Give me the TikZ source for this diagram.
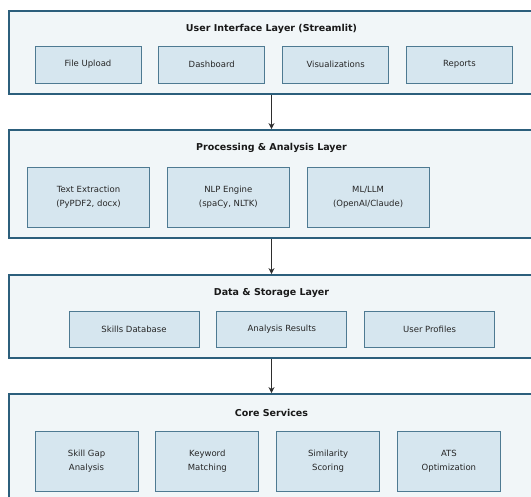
\documentclass[tikz,border=0pt]{standalone}
\usepackage{fontspec}
\setmainfont{DejaVu Sans}
\usetikzlibrary{arrows.meta,positioning}
\definecolor{LyrEdge}{HTML}{2C5F7C}
\definecolor{LyrFill}{HTML}{F1F6F8}
\definecolor{BoxEdge}{HTML}{4E7A92}
\definecolor{BoxFill}{HTML}{D6E6EF}
\definecolor{ArrInk}{HTML}{2E2E2E}

\begin{document}
\begin{tikzpicture}[x=1pt,y=-1pt,
        node distance=17pt,
        layer/.style={draw=LyrEdge,line width=1.8pt,fill=LyrFill,minimum width=525pt,inner sep=0pt},
        ltitle/.style={font=\fontsize{9.5}{11}\selectfont\bfseries,text=black!90},
        box/.style={draw=BoxEdge,line width=0.8pt,fill=BoxFill,inner sep=0pt,align=center,font=\fontsize{8.5}{14}\selectfont,text=black!85},
        arr/.style={-{Stealth[length=6pt,width=6pt]},line width=1pt,ArrInk}
      ]
        \useasboundingbox (0,0) rectangle (531,497);
        \clip (0,0) rectangle (531,497);
        % layers
        \node[layer,minimum height=83pt] (ui) at (271.5,52.5) {};
        \node[layer,minimum height=108pt] (proc) at (271.5,184) {};
        \node[layer,minimum height=83pt] (data) at (271.5,316.5) {};
        \node[layer,minimum height=116pt] (core) at (271.5,452) {};
        \node[ltitle] (uiT) at (271.5,29) {User Interface Layer (Streamlit)};
        \node[ltitle] (procT) at (271.5,148) {Processing \& Analysis Layer};
        \node[ltitle] (dataT) at (271.5,293) {Data \& Storage Layer};
        \node[ltitle] (coreT) at (271.5,413) {Core Services};
        % user interface
        \node[box,minimum width=106pt,minimum height=37pt] (upload) at (88,64.5) {File Upload};
        \node[box,minimum width=106pt,minimum height=37pt,right=of upload] (dash) {Dashboard};
        \node[box,minimum width=106pt,minimum height=37pt,right=of dash] (vis) {Visualizations};
        \node[box,minimum width=106pt,minimum height=37pt,right=of vis] (reports) {Reports};
        % processing
        \node[box,minimum width=122pt,minimum height=60pt] (extract) at (88.5,197) {Text Extraction\\(PyPDF2, docx)};
        \node[box,minimum width=122pt,minimum height=60pt,right=of extract] (nlp) {NLP Engine\\(spaCy, NLTK)};
        \node[box,minimum width=122pt,minimum height=60pt,right=of nlp] (llm) {ML/LLM\\(OpenAI/Claude)};
        % data
        \node[box,minimum width=130pt,minimum height=36pt] (skills) at (134,329) {Skills Database};
        \node[box,minimum width=130pt,minimum height=36pt,right=of skills] (results) {Analysis Results};
        \node[box,minimum width=130pt,minimum height=36pt,right=of results] (profiles) {User Profiles};
        % core
        \node[box,minimum width=103pt,minimum height=60pt] (gap) at (86.5,461) {Skill Gap\\Analysis};
        \node[box,minimum width=103pt,minimum height=60pt,right=of gap] (kw) {Keyword\\Matching};
        \node[box,minimum width=103pt,minimum height=60pt,right=of kw] (sim) {Similarity\\Scoring};
        \node[box,minimum width=103pt,minimum height=60pt,right=of sim] (ats) {ATS\\Optimization};
        \draw[arr] (ui.south) -- (proc.north);
        \draw[arr] (proc.south) -- (data.north);
        \draw[arr] (data.south) -- (core.north);
      \end{tikzpicture}
\end{document}
